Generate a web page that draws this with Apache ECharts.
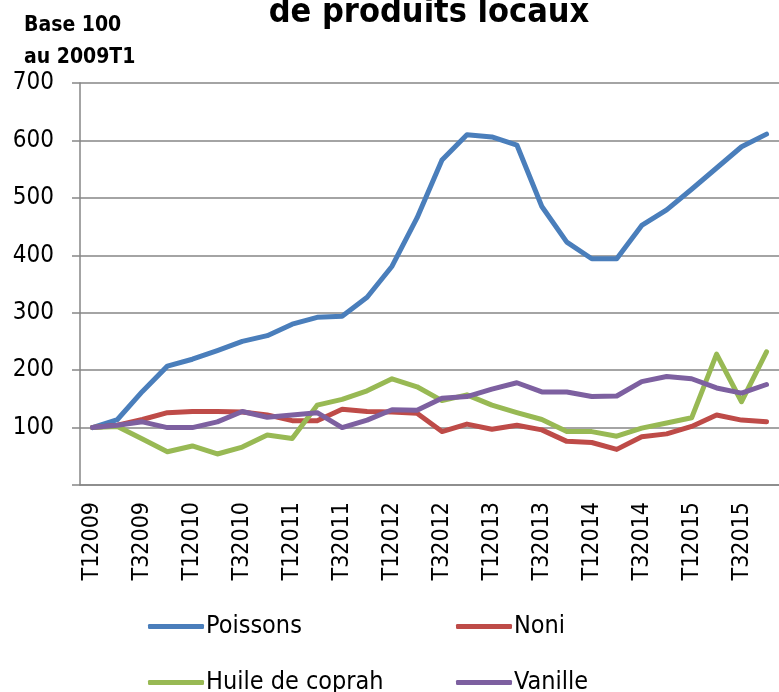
<!DOCTYPE html>
<html>
<head>
<meta charset="utf-8">
<script src="https://cdn.jsdelivr.net/npm/echarts@6/dist/echarts.min.js"></script>
<style>
html,body{margin:0;padding:0;background:#fff;}
#chart{width:779px;height:692px;}
</style>
</head>
<body>
<div id="chart"></div>
<script>
// trimestres T1 2009 -> T4 2015
var quarters = [];
for (var y = 2009; y <= 2015; y++) {
    for (var q = 1; q <= 4; q++) {
        quarters.push("T" + q + y);
    }
}
var poissons = [100,114,163,207,219,234,250,260,280,292,294,327,381,465,566,610,606,592,485,423,394,394,452,479,515,552,589,611];
var noni     = [100,104,114,126,128,128,127,122,112,112,132,128,127,125,93,106,97,104,96,76,74,62,84,89,102,122,113,110];
var coprah   = [100,102,80,58,68,54,66,87,81,139,149,164,185,171,147,157,139,126,114,93,93,85,99,108,117,228,145,232];
var vanille  = [100,104,110,100,100,110,128,118,122,126,100,113,131,130,151,154,167,178,162,162,154,155,180,189,185,169,160,175];

var seriesNames = ["Poissons","Noni","Huile de coprah","Vanille"];
var seriesColors = ["#4A7EBB","#BE4B48","#98B954","#7D60A0"];
var seriesData = [poissons, noni, coprah, vanille];

var chart = echarts.init(document.getElementById("chart"));
var font = "'DejaVu Sans Condensed', 'DejaVu Sans'";

var series = [];
for (var i = 0; i < seriesNames.length; i++) {
    series.push({
        name: seriesNames[i],
        type: "line",
        data: seriesData[i],
        symbol: "none",
        color: seriesColors[i],
        lineStyle: { width: 5, color: seriesColors[i], cap: "round", join: "round" }
    });
}

// une légende par entrée pour garder la disposition 2x2
var legendPos = [[143, 609], [451, 609], [143, 665], [451, 665]];
var legends = [];
for (var k = 0; k < seriesNames.length; k++) {
    legends.push({
        data: [seriesNames[k]],
        left: legendPos[k][0],
        top: legendPos[k][1],
        icon: "roundRect",
        itemWidth: 56,
        itemHeight: 5,
        itemGap: 0,
        textStyle: { fontFamily: font, fontSize: 25, color: "#000", padding: [0, 0, 0, -3] },
        selectedMode: false
    });
}

var option = {
    animation: false,
    title: [{
        text: "de produits locaux",
        left: 424,
        textAlign: "center",
        top: -9,
        textStyle: { fontFamily: font, fontSize: 34, fontWeight: "bold", color: "#000" }
    }, {
        text: "Base 100\nau 2009T1",
        left: 19,
        top: 5,
        textStyle: { fontFamily: font, fontSize: 21, fontWeight: "bold", color: "#000", lineHeight: 32 }
    }],
    legend: legends,
    grid: { left: 80, top: 83, width: 703, height: 402 },
    xAxis: {
        type: "category",
        data: quarters,
        boundaryGap: true,
        axisLine: { lineStyle: { color: "#868686", width: 1.5 } },
        axisTick: { interval: 0, length: 8, lineStyle: { color: "#868686", width: 1.5 } },
        axisLabel: {
            interval: 1,
            rotate: 90,
            margin: 17,
            fontFamily: font,
            fontSize: 23,
            color: "#000"
        },
        splitLine: { show: false }
    },
    yAxis: {
        type: "value",
        min: 0,
        max: 700,
        interval: 100,
        axisLine: { show: true, lineStyle: { color: "#868686", width: 1.5 } },
        axisTick: { show: true, length: 8, lineStyle: { color: "#868686", width: 1.5 } },
        axisLabel: {
            margin: 26,
            fontFamily: font,
            fontSize: 24,
            color: "#000",
            formatter: function (v) { return v === 0 ? "" : v; }
        },
        splitLine: { show: true, lineStyle: { color: "#868686", width: 1.5 } }
    },
    series: series
};
chart.setOption(option);
</script>
</body>
</html>
